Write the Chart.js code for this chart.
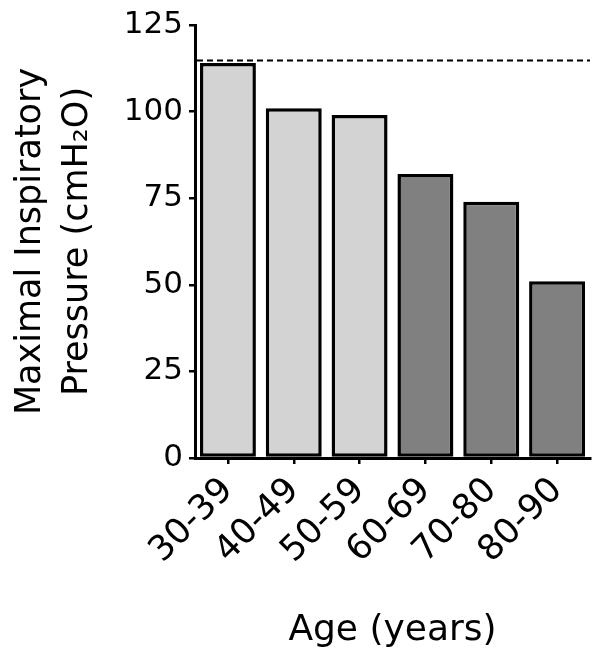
<!DOCTYPE html>
<html>
<head>
<meta charset="utf-8">
<script src="https://cdn.jsdelivr.net/npm/chart.js@4/dist/chart.umd.min.js"></script>
<style>
  html, body { margin: 0; padding: 0; background: #fff; }
  #wrap { width: 601px; height: 661px; }
</style>
</head>
<body>
<div id="wrap"><canvas id="c" width="601" height="661"></canvas></div>
<script>
// ---- data ----
const categories = ['30-39', '40-49', '50-59', '60-69', '70-80', '80-90'];
const mipValues = [114, 101, 99, 82, 74, 51];
const yTickValues = [0, 25, 50, 75, 100, 125];
const referenceLevel = [115];
const yTitleLines = ['Maximal Inspiratory', 'Pressure (cmH\u2082O)'];
const xTitle = 'Age (years)';

const FONT = "'DejaVu Sans', sans-serif";
const lightGrey = '#d3d3d3';
const darkGrey = '#808080';

const refLinePlugin = {
  id: 'refLine',
  afterDatasetsDraw(chart) {
    const { ctx, chartArea, scales } = chart;
    referenceLevel.forEach(v => {
      const y = Math.round(scales.y.getPixelForValue(v)) + 0.5;
      ctx.save();
      ctx.strokeStyle = '#000';
      ctx.lineWidth = 2;
      ctx.setLineDash([6, 4]);
      ctx.beginPath();
      ctx.moveTo(chartArea.left + 2, y);
      ctx.lineTo(chartArea.right, y);
      ctx.stroke();
      ctx.restore();
    });
  }
};

new Chart(document.getElementById('c'), {
  type: 'bar',
  data: {
    labels: categories,
    datasets: [{
      data: mipValues,
      backgroundColor: ctx => (ctx.dataIndex < 3 ? lightGrey : darkGrey),
      borderColor: '#000',
      borderWidth: 3.5,
      borderSkipped: false,
      barPercentage: 0.85,
      categoryPercentage: 1.0
    }]
  },
  options: {
    responsive: false,
    animation: false,
    events: [],
    layout: { padding: { top: 25, right: 11, bottom: 0, left: 0 } },
    plugins: { legend: { display: false }, tooltip: { enabled: false } },
    scales: {
      x: {
        offset: true,
        grid: {
          offset: false,
          drawOnChartArea: false,
          drawTicks: true,
          tickLength: 6,
          color: '#000',
          lineWidth: 2.5
        },
        border: { display: true, color: '#000', width: 3 },
        ticks: {
          color: '#000',
          font: { family: FONT, size: 35 },
          minRotation: 45,
          maxRotation: 45,
          padding: 6
        },
        title: {
          display: true,
          text: xTitle,
          color: '#000',
          font: { family: FONT, size: 36 },
          padding: { top: 0, bottom: 9 }
        },
        afterFit: s => { s.height = 203; }
      },
      y: {
        min: 0,
        max: 125,
        afterBuildTicks: s => { s.ticks = yTickValues.map(v => ({ value: v })); },
        grid: {
          drawOnChartArea: false,
          drawTicks: true,
          tickLength: 6,
          color: '#000',
          lineWidth: 2.5
        },
        border: { display: true, color: '#000', width: 3 },
        ticks: {
          color: '#000',
          font: { family: FONT, size: 31 },
          padding: 6
        },
        title: {
          display: true,
          text: yTitleLines,
          color: '#000',
          font: { family: FONT, size: 35, lineHeight: 1.36 },
          padding: { top: 7, bottom: 0 }
        },
        afterFit: s => { s.width = 195; }
      }
    }
  },
  plugins: [refLinePlugin]
});
</script>
</body>
</html>
